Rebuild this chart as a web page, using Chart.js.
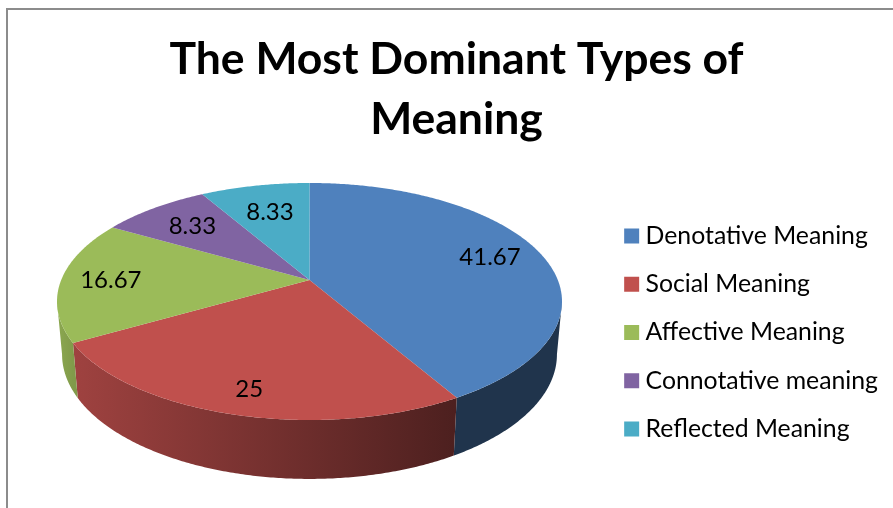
<!DOCTYPE html>
<html>
<head>
<meta charset="utf-8">
<title>The Most Dominant Types of Meaning</title>
<script src="https://cdn.jsdelivr.net/npm/chart.js@4/dist/chart.umd.js"></script>
<style>
    html, body { margin: 0; padding: 0; background: #fff; overflow: hidden; }
    #frame { position: absolute; left: 6px; top: 8px; width: 905px; height: 520px;
             border: 2px solid #8c8c8c; background: #fff; overflow: hidden; }
    canvas { display: block; }
</style>
</head>
<body>
<div id="frame"><canvas id="pieChart" width="897" height="485" style="width:897px;height:485px"></canvas></div>
<script>
const categories = ["Denotative Meaning", "Social Meaning", "Affective Meaning", "Connotative meaning", "Reflected Meaning"];
const shares = [41.67, 25, 16.67, 8.33, 8.33];
const sliceColors = ["#4f81bd", "#c0504d", "#9bbb59", "#8064a2", "#4bacc6"];
const titleLines = ["The Most Dominant Types of", "Meaning"];

// Where the value sits along the slice radius (0 centre, 1 rim), and a small turn in degrees
const labelReach = [0.78, 0.838, 0.8, 0.73, 0.69];
const labelTurn = [0, -0.7, 0, 0, 0];

// Perspective of the tilted disc, in canvas pixels
const discX = 301.5, discY = 270, spreadX = 248.3, spreadY = 114.6, tilt = 0.1814;
const step = Math.PI / 360;

function project(angle) {
    const u = Math.cos(angle);
    const v = Math.sin(angle);
    const d = 1 - tilt * v;
    return { x: discX + spreadX * u / d, y: discY + spreadY * v / d };
}

function projectInside(angle, reach) {
    const v = Math.sin(angle) * reach;
    const d = 1 - tilt * v;
    return { x: discX + spreadX * Math.cos(angle) * reach / d, y: discY + spreadY * v / d };
}

// The rim's lower edge is a little narrower than the top edge
function dropToFloor(p) {
    return { x: discX + (p.x - discX) * 0.98, y: p.y + 51.8 + 0.051 * (p.y - discY) };
}

function shadeColor(hex, shade) {
    const n = parseInt(hex.slice(1), 16);
    const r = Math.round((n >> 16 & 255) * shade);
    const g = Math.round((n >> 8 & 255) * shade);
    const b = Math.round((n & 255) * shade);
    return `rgb(${r},${g},${b})`;
}

// Side wall gets darker from left to right
function wallGradient(ctx, hex) {
    const g = ctx.createLinearGradient(49, 0, 447, 0);
    g.addColorStop(0, shadeColor(hex, 0.9));
    g.addColorStop(0.04, shadeColor(hex, 0.83));
    g.addColorStop(1, shadeColor(hex, 0.4));
    return g;
}

function rimPoints(from, to) {
    const pts = [];
    for (let a = from; a < to; a += step) pts.push(project(a));
    pts.push(project(to));
    return pts;
}

function drawWalls(ctx, arcs) {
    // the wall shows between the widest points of the disc
    const frontFrom = Math.asin(tilt), frontTo = Math.PI - frontFrom;
    arcs.forEach((arc, i) => {
        const from = Math.max(arc.startAngle, frontFrom);
        const to = Math.min(arc.endAngle, frontTo);
        if (to <= from) return;
        const top = rimPoints(from, to);
        const floor = top.map(dropToFloor).reverse();
        ctx.beginPath();
        top.concat(floor).forEach((p, n) => n ? ctx.lineTo(p.x, p.y) : ctx.moveTo(p.x, p.y));
        ctx.closePath();
        ctx.fillStyle = wallGradient(ctx, sliceColors[i]);
        ctx.fill();
    });
}

function drawTopFace(ctx, arcs) {
    arcs.forEach((arc, i) => {
        ctx.beginPath();
        ctx.moveTo(discX, discY);
        rimPoints(arc.startAngle, arc.endAngle).forEach(p => ctx.lineTo(p.x, p.y));
        ctx.closePath();
        ctx.fillStyle = sliceColors[i];
        ctx.fill();
    });
}

function drawValues(ctx, arcs) {
    ctx.font = "24px Lato";
    ctx.fillStyle = "#000";
    ctx.textAlign = "center";
    ctx.textBaseline = "middle";
    arcs.forEach((arc, i) => {
        const mid = (arc.startAngle + arc.endAngle) / 2 + labelTurn[i] * Math.PI / 180;
        const p = projectInside(mid, labelReach[i]);
        ctx.fillText(String(shares[i]), p.x, p.y);
    });
}

// Chart.js has no 3D pie, so take the arcs it computed and draw them tilted
const tiltedPie = {
    id: "tiltedPie",
    beforeDatasetsDraw(chart) {
        const ctx = chart.ctx;
        const arcs = chart.getDatasetMeta(0).data;
        ctx.save();
        drawWalls(ctx, arcs);
        drawTopFace(ctx, arcs);
        drawValues(ctx, arcs);
        ctx.restore();
        return false;
    }
};

new Chart(document.getElementById("pieChart"), {
    type: "pie",
    data: {
        labels: categories,
        datasets: [{ data: shares, backgroundColor: sliceColors, borderWidth: 0 }]
    },
    plugins: [tiltedPie],
    options: {
        responsive: false,
        animation: false,
        layout: { padding: { left: 17, right: 17 } },
        plugins: {
            tooltip: { enabled: false },
            title: {
                display: true,
                text: titleLines,
                color: "#000",
                font: { family: "Lato", size: 44.5, weight: "bold", lineHeight: 1.348 },
                padding: { top: 20, bottom: 20 }
            },
            legend: {
                position: "right",
                fullSize: false,
                labels: {
                    color: "#000",
                    font: { family: "Lato", size: 24.8 },
                    boxWidth: 3,
                    boxHeight: 3,
                    padding: 23.4,
                    generateLabels(chart) {
                        // thick outline keeps the swatch square and close to its text
                        return Chart.overrides.pie.plugins.legend.labels.generateLabels(chart).map(item => {
                            item.lineWidth = 12;
                            item.strokeStyle = item.fillStyle;
                            return item;
                        });
                    }
                }
            }
        }
    }
});
</script>
</body>
</html>
